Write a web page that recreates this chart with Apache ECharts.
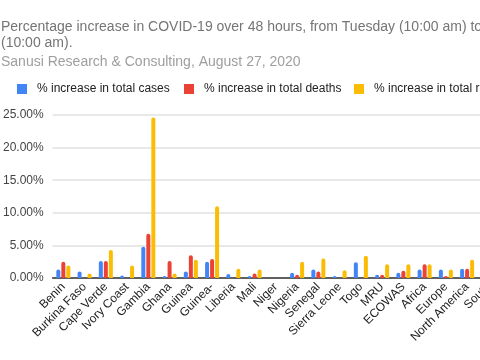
<!DOCTYPE html>
<html>
<head>
<meta charset="utf-8">
<script src="https://cdn.jsdelivr.net/npm/echarts@6/dist/echarts.min.js"></script>
<style>
html,body{margin:0;padding:0;background:#fff;overflow:hidden;width:480px;height:360px;}
#chart{width:560px;height:360px;}
</style>
</head>
<body>
<div id="chart"></div>
<script>
const titleText = 'Percentage increase in COVID-19 over 48 hours, from Tuesday (10:00 am) to Thursday\n(10:00 am).';
const subtitleText = 'Sanusi Research & Consulting, August 27, 2020';
const categories = ['Benin','Burkina Faso','Cape Verde','Ivory Coast','Gambia','Ghana','Guinea','Guinea-','Liberia','Mali','Niger','Nigeria','Senegal','Sierra Leone','Togo','MRU','ECOWAS','Africa','Europe','North America','South'];
const seriesNames = ['% increase in total cases','% increase in total deaths','% increase in total recoveries'];
const cases      = [1.3, 1.0, 2.6, 0.4, 4.8, 0.3, 1.0, 2.5, 0.6, 0.3, 0, 0.8, 1.3, 0.3, 2.4, 0.5, 0.8, 1.3, 1.3, 1.4, 1.6];
const deaths     = [2.5, 0, 2.6, 0, 6.8, 2.6, 3.5, 2.9, 0, 0.7, 0, 0.5, 1.0, 0, 0, 0.5, 1.1, 2.1, 0.3, 1.4, 1.5];
const recoveries = [1.9, 0.7, 4.3, 1.9, 24.6, 0.7, 2.8, 11.0, 1.4, 1.3, 0, 2.5, 3.0, 1.2, 3.4, 2.1, 2.1, 2.1, 1.3, 2.8, 2.0];
const yTicks = {min: 0, max: 25, interval: 5};
const colors = ['#4285F4', '#EA4335', '#FBBC04'];

const font = 'Liberation Sans, Arial, sans-serif';
const chart = echarts.init(document.getElementById('chart'), null, {renderer: 'canvas'});
const legendLefts = [17, 184, 354];
const option = {
  animation: false,
  color: colors,
  textStyle: {fontFamily: font},
  title: [{
    text: titleText,
    left: 1, top: 19,
    textStyle: {fontFamily: font, fontSize: 14, fontWeight: 'normal', color: '#757575', lineHeight: 16},
    subtext: subtitleText,
    itemGap: 3,
    subtextStyle: {fontFamily: font, fontSize: 14, color: '#9e9e9e', lineHeight: 16},
    padding: 0
  }],
  legend: seriesNames.map((n, i) => ({
    data: [n], left: legendLefts[i], top: 83, padding: 0,
    icon: 'rect', itemWidth: 10, itemHeight: 10,
    textStyle: {fontFamily: font, fontSize: 12, color: '#222', padding: [0, 0, 0, 5]}
  })),
  grid: {left: 50, top: 115, width: 449, height: 163, containLabel: false},
  xAxis: {
    type: 'category', data: categories,
    axisLine: {lineStyle: {color: '#333', width: 1.5}},
    axisTick: {show: false},
    axisLabel: {interval: 0, rotate: 45, margin: 7, fontFamily: font, fontSize: 12, color: '#222'}
  },
  yAxis: {
    type: 'value', min: yTicks.min, max: yTicks.max, interval: yTicks.interval,
    axisLine: {show: false}, axisTick: {show: false},
    splitLine: {lineStyle: {color: '#e0e0e0', width: 1.5}},
    axisLabel: {margin: 9, fontFamily: font, fontSize: 12, color: '#444', formatter: v => v.toFixed(2) + '%'}
  },
  series: [cases, deaths, recoveries].map((d, i) => ({
    name: seriesNames[i], type: 'bar', data: d,
    barWidth: 4, barGap: '25%',
    itemStyle: {borderRadius: [2, 2, 0, 0]}
  }))
};
chart.setOption(option);
</script>
</body>
</html>
